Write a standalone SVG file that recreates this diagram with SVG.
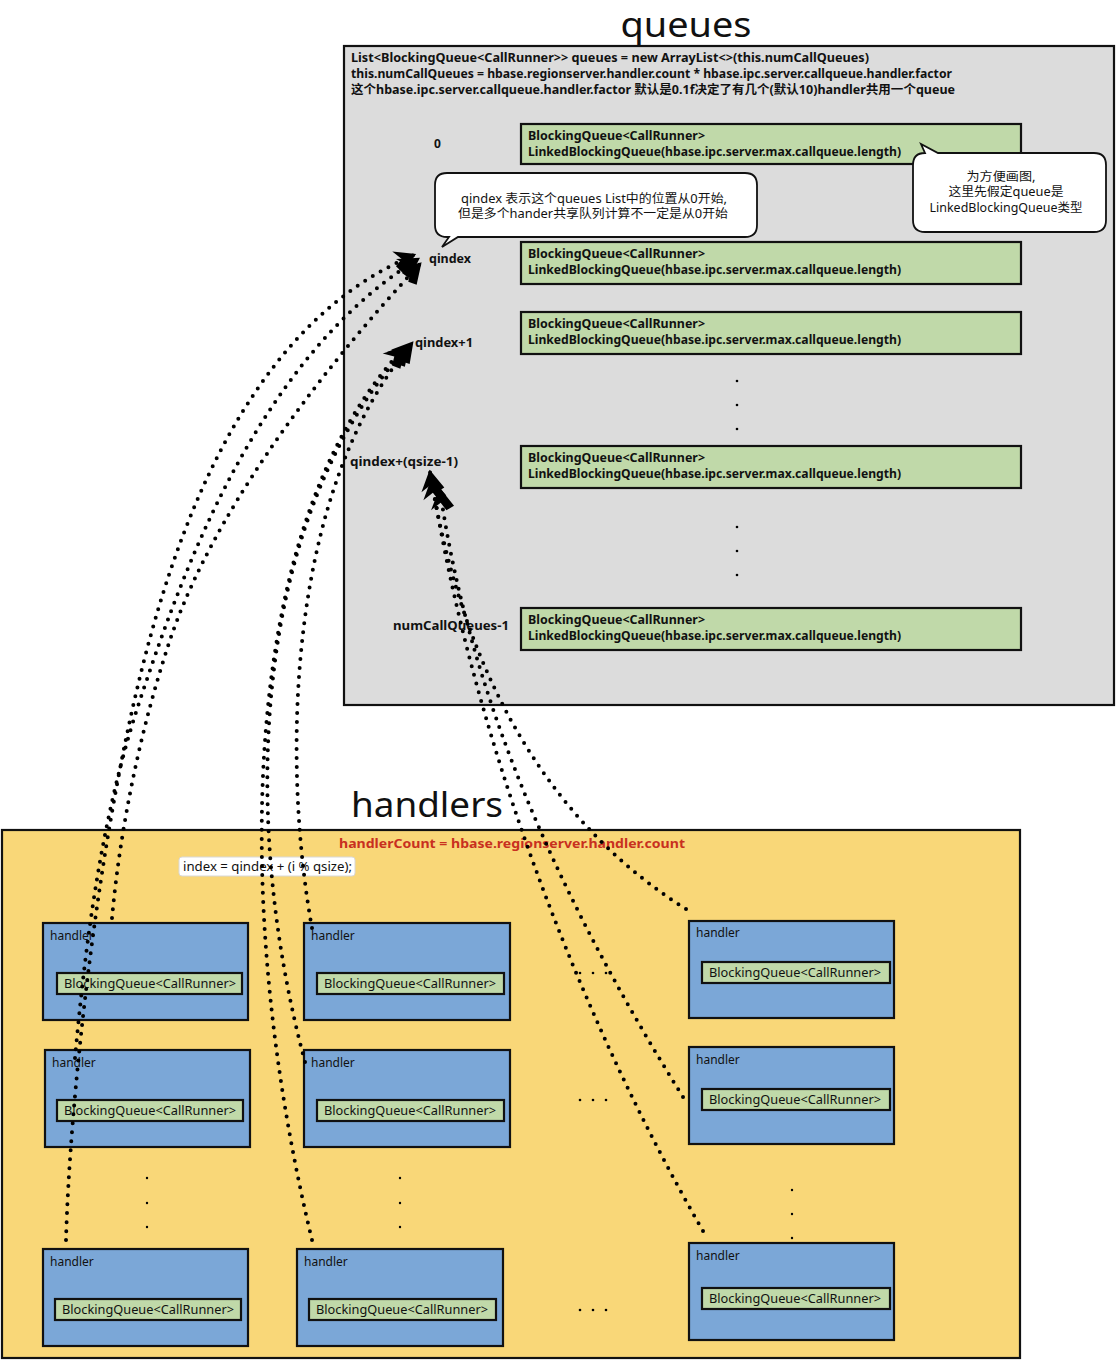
<svg xmlns="http://www.w3.org/2000/svg" width="1116" height="1360" viewBox="0 0 1116 1360">
<style>
text{font-family:"Noto Sans","Noto Sans CJK SC",sans-serif;fill:#111}
.title{font-size:35px}
.hd{font-size:12px;font-weight:bold}
.lb{font-size:12px;font-weight:bold}
.qbox{fill:#c0d9a9;stroke:#111;stroke-width:2.2}
.hbox{fill:#7ba7d7;stroke:#111;stroke-width:2.2}
.ibox{fill:#c0d9a9;stroke:#111;stroke-width:2.2}
.hl{font-size:12px}
.it{font-size:12.5px}
.call{fill:#fff;stroke:#111;stroke-width:1.8}
.ct{font-size:12px;text-anchor:middle}
.conn{fill:none;stroke:#000;stroke-width:4;stroke-linecap:round;stroke-dasharray:0 9}
.sd{fill:#000}
</style>
<defs>
<marker id="ah" markerUnits="userSpaceOnUse" markerWidth="28" markerHeight="28" refX="0" refY="0" viewBox="-20 -12 24 24" orient="auto">
<path d="M2,0 L-16,-10 L-11,-1 L-18,3 L-15,10 Z" fill="#000"/>
</marker>
</defs>

<text class="title" x="686" y="37" text-anchor="middle" textLength="131" lengthAdjust="spacingAndGlyphs">queues</text>
<g id="queues">
<rect x="344" y="46" width="770" height="659" fill="#dcdcdc" stroke="#111" stroke-width="2.2"/>
<text class="hd" x="351" y="62" textLength="518" lengthAdjust="spacingAndGlyphs">List&lt;BlockingQueue&lt;CallRunner&gt;&gt; queues = new ArrayList&lt;&gt;(this.numCallQueues)</text>
<text class="hd" x="351" y="78" textLength="601" lengthAdjust="spacingAndGlyphs">this.numCallQueues = hbase.regionserver.handler.count * hbase.ipc.server.callqueue.handler.factor</text>
<text class="hd" x="351" y="94" textLength="604" lengthAdjust="spacingAndGlyphs">这个hbase.ipc.server.callqueue.handler.factor 默认是0.1f决定了有几个(默认10)handler共用一个queue</text>
</g>

<g id="q0"><rect class="qbox" x="521" y="124" width="500" height="40"/>
<text class="hd" x="528" y="140" textLength="177" lengthAdjust="spacingAndGlyphs">BlockingQueue&lt;CallRunner&gt;</text>
<text class="hd" x="528" y="156" textLength="373" lengthAdjust="spacingAndGlyphs">LinkedBlockingQueue(hbase.ipc.server.max.callqueue.length)</text></g>
<g id="q1"><rect class="qbox" x="521" y="242" width="500" height="42"/>
<text class="hd" x="528" y="258" textLength="177" lengthAdjust="spacingAndGlyphs">BlockingQueue&lt;CallRunner&gt;</text>
<text class="hd" x="528" y="274" textLength="373" lengthAdjust="spacingAndGlyphs">LinkedBlockingQueue(hbase.ipc.server.max.callqueue.length)</text></g>
<g id="q2"><rect class="qbox" x="521" y="312" width="500" height="42"/>
<text class="hd" x="528" y="328" textLength="177" lengthAdjust="spacingAndGlyphs">BlockingQueue&lt;CallRunner&gt;</text>
<text class="hd" x="528" y="344" textLength="373" lengthAdjust="spacingAndGlyphs">LinkedBlockingQueue(hbase.ipc.server.max.callqueue.length)</text></g>
<g id="q3"><rect class="qbox" x="521" y="446" width="500" height="42"/>
<text class="hd" x="528" y="462" textLength="177" lengthAdjust="spacingAndGlyphs">BlockingQueue&lt;CallRunner&gt;</text>
<text class="hd" x="528" y="478" textLength="373" lengthAdjust="spacingAndGlyphs">LinkedBlockingQueue(hbase.ipc.server.max.callqueue.length)</text></g>
<g id="q4"><rect class="qbox" x="521" y="608" width="500" height="42"/>
<text class="hd" x="528" y="624" textLength="177" lengthAdjust="spacingAndGlyphs">BlockingQueue&lt;CallRunner&gt;</text>
<text class="hd" x="528" y="640" textLength="373" lengthAdjust="spacingAndGlyphs">LinkedBlockingQueue(hbase.ipc.server.max.callqueue.length)</text></g>

<g id="qlabels">
<text class="lb" x="434" y="148">0</text>
<text class="lb" x="429" y="263" textLength="42" lengthAdjust="spacingAndGlyphs">qindex</text>
<text class="lb" x="415" y="347" textLength="58" lengthAdjust="spacingAndGlyphs">qindex+1</text>
<text class="lb" x="350" y="466" textLength="108" lengthAdjust="spacingAndGlyphs">qindex+(qsize-1)</text>
<text class="lb" x="393" y="630" textLength="116" lengthAdjust="spacingAndGlyphs">numCallQueues-1</text>
<circle class="sd" cx="737" cy="381" r="1.3"/><circle class="sd" cx="737" cy="405" r="1.3"/><circle class="sd" cx="737" cy="429" r="1.3"/>
<circle class="sd" cx="737" cy="527" r="1.3"/><circle class="sd" cx="737" cy="551" r="1.3"/><circle class="sd" cx="737" cy="575" r="1.3"/>
</g>

<g id="callout1">
<path class="call" d="M447,173 H745 Q757,173 757,185 V225 Q757,237 745,237 H458 L442,247 L449,237 H447 Q435,237 435,225 V185 Q435,173 447,173 Z"/>
<text class="ct" x="594" y="203" textLength="266" lengthAdjust="spacingAndGlyphs">qindex 表示这个queues List中的位置从0开始,</text>
<text class="ct" x="593" y="218" textLength="270" lengthAdjust="spacingAndGlyphs">但是多个hander共享队列计算不一定是从0开始</text>
</g>
<g id="callout2">
<path class="call" d="M925,153 L921,144 L938,153 H1094 Q1106,153 1106,165 V220 Q1106,232 1094,232 H925 Q913,232 913,220 V165 Q913,153 925,153 Z"/>
<text class="ct" x="1001" y="181" textLength="69" lengthAdjust="spacingAndGlyphs">为方便画图,</text>
<text class="ct" x="1006" y="196" textLength="115" lengthAdjust="spacingAndGlyphs">这里先假定queue是</text>
<text class="ct" x="1006" y="212" textLength="153" lengthAdjust="spacingAndGlyphs">LinkedBlockingQueue类型</text>
</g>

<text class="title" x="427" y="817" text-anchor="middle" textLength="152" lengthAdjust="spacingAndGlyphs">handlers</text>
<g id="handlers">
<rect x="2" y="830" width="1018" height="528" fill="#f9d778" stroke="#111" stroke-width="2.2"/>
<text x="339" y="848" font-size="13" font-weight="bold" style="fill:#c8301f" textLength="346" lengthAdjust="spacingAndGlyphs">handlerCount = hbase.regionserver.handler.count</text>
<rect x="179" y="857" width="176" height="19" rx="3" fill="#fff" stroke="#d8d8d8"/>
<text x="183" y="871" font-size="12" textLength="169" lengthAdjust="spacingAndGlyphs">index = qindex + (i % qsize);</text>
</g>

<g id="h11"><rect class="hbox" x="43" y="923" width="205" height="97"/><text class="hl" x="50" y="940">handler</text>
<rect class="ibox" x="57" y="973" width="185" height="21"/><text class="it" x="150" y="988" text-anchor="middle" textLength="172" lengthAdjust="spacingAndGlyphs">BlockingQueue&lt;CallRunner&gt;</text></g>
<g id="h12"><rect class="hbox" x="45" y="1050" width="205" height="97"/><text class="hl" x="52" y="1067">handler</text>
<rect class="ibox" x="57" y="1100" width="186" height="21"/><text class="it" x="150" y="1115" text-anchor="middle" textLength="172" lengthAdjust="spacingAndGlyphs">BlockingQueue&lt;CallRunner&gt;</text></g>
<g id="h13"><rect class="hbox" x="43" y="1249" width="205" height="97"/><text class="hl" x="50" y="1266">handler</text>
<rect class="ibox" x="55" y="1299" width="186" height="21"/><text class="it" x="148" y="1314" text-anchor="middle" textLength="172" lengthAdjust="spacingAndGlyphs">BlockingQueue&lt;CallRunner&gt;</text></g>

<g id="h21"><rect class="hbox" x="304" y="923" width="206" height="97"/><text class="hl" x="311" y="940">handler</text>
<rect class="ibox" x="317" y="973" width="187" height="21"/><text class="it" x="410" y="988" text-anchor="middle" textLength="172" lengthAdjust="spacingAndGlyphs">BlockingQueue&lt;CallRunner&gt;</text></g>
<g id="h22"><rect class="hbox" x="304" y="1050" width="206" height="97"/><text class="hl" x="311" y="1067">handler</text>
<rect class="ibox" x="317" y="1100" width="187" height="21"/><text class="it" x="410" y="1115" text-anchor="middle" textLength="172" lengthAdjust="spacingAndGlyphs">BlockingQueue&lt;CallRunner&gt;</text></g>
<g id="h23"><rect class="hbox" x="297" y="1249" width="206" height="97"/><text class="hl" x="304" y="1266">handler</text>
<rect class="ibox" x="309" y="1299" width="187" height="21"/><text class="it" x="402" y="1314" text-anchor="middle" textLength="172" lengthAdjust="spacingAndGlyphs">BlockingQueue&lt;CallRunner&gt;</text></g>

<g id="h31"><rect class="hbox" x="689" y="921" width="205" height="97"/><text class="hl" x="696" y="937">handler</text>
<rect class="ibox" x="702" y="962" width="188" height="21"/><text class="it" x="795" y="977" text-anchor="middle" textLength="172" lengthAdjust="spacingAndGlyphs">BlockingQueue&lt;CallRunner&gt;</text></g>
<g id="h32"><rect class="hbox" x="689" y="1047" width="205" height="97"/><text class="hl" x="696" y="1064">handler</text>
<rect class="ibox" x="702" y="1089" width="188" height="21"/><text class="it" x="795" y="1104" text-anchor="middle" textLength="172" lengthAdjust="spacingAndGlyphs">BlockingQueue&lt;CallRunner&gt;</text></g>
<g id="h33"><rect class="hbox" x="689" y="1243" width="205" height="97"/><text class="hl" x="696" y="1260">handler</text>
<rect class="ibox" x="702" y="1288" width="188" height="21"/><text class="it" x="795" y="1303" text-anchor="middle" textLength="172" lengthAdjust="spacingAndGlyphs">BlockingQueue&lt;CallRunner&gt;</text></g>

<g id="ellipsis">
<circle class="sd" cx="147" cy="1178" r="1.2"/><circle class="sd" cx="147" cy="1203" r="1.2"/><circle class="sd" cx="147" cy="1227" r="1.2"/>
<circle class="sd" cx="400" cy="1178" r="1.2"/><circle class="sd" cx="400" cy="1203" r="1.2"/><circle class="sd" cx="400" cy="1227" r="1.2"/>
<circle class="sd" cx="792" cy="1190" r="1.2"/><circle class="sd" cx="792" cy="1214" r="1.2"/><circle class="sd" cx="792" cy="1238" r="1.2"/>
<circle class="sd" cx="580" cy="973" r="1.3"/><circle class="sd" cx="593" cy="973" r="1.3"/><circle class="sd" cx="606" cy="973" r="1.3"/>
<circle class="sd" cx="580" cy="1100" r="1.3"/><circle class="sd" cx="593" cy="1100" r="1.3"/><circle class="sd" cx="606" cy="1100" r="1.3"/>
<circle class="sd" cx="580" cy="1310" r="1.3"/><circle class="sd" cx="593" cy="1310" r="1.3"/><circle class="sd" cx="606" cy="1310" r="1.3"/>
</g>

<g id="connectors">
<path class="conn" marker-end="url(#ah)" d="M112,918 C120,830 140,730 170,640 S275,420 420,264"/>
<path class="conn" marker-end="url(#ah)" d="M75,1058 C85,950 100,820 140,700 S255,360 418,259"/>
<path class="conn" marker-end="url(#ah)" d="M66,1240 C70,1100 95,880 130,720 S235,330 414,255"/>
<path class="conn" marker-end="url(#ah)" d="M312,928 C285,780 280,500 412,343"/>
<path class="conn" marker-end="url(#ah)" d="M305,1062 C240,820 250,520 408,346"/>
<path class="conn" marker-end="url(#ah)" d="M312,1240 C230,900 240,520 404,348"/>
<path class="conn" marker-end="url(#ah)" d="M686,909 C560,830 465,690 430,472"/>
<path class="conn" marker-end="url(#ah)" d="M683,1097 C560,900 470,700 440,490"/>
<path class="conn" marker-end="url(#ah)" d="M703,1231 C570,1000 470,720 432,480"/>
</g>
</svg>
